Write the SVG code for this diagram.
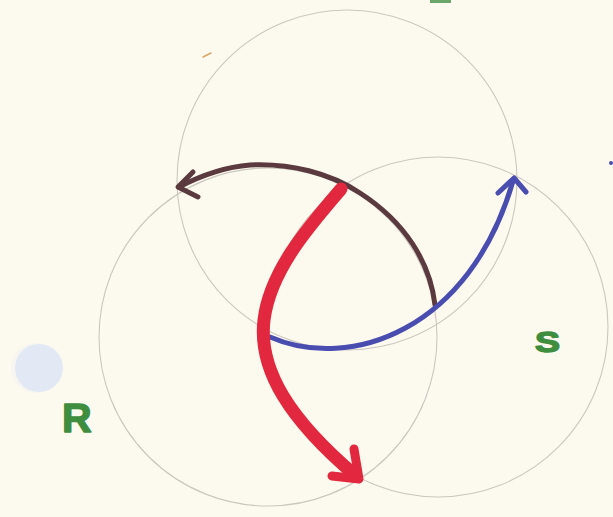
<svg xmlns="http://www.w3.org/2000/svg" width="613" height="517" viewBox="0 0 613 517">
  <defs>
    <style>
      .ring { fill: none; stroke: #cbc7bf; stroke-width: 1.1; }
      .pen { fill: none; stroke-linecap: round; stroke-linejoin: round; }
      .brown { stroke: #5a3a3e; stroke-width: 5; }
      .blue { stroke: #4a4db0; stroke-width: 5; }
      .red { stroke: #e2283f; }
      .lbl { font-family: "Liberation Sans", Arial, sans-serif; font-weight: bold; fill: #3f8e40; stroke: #3f8e40; stroke-width: 1.5; stroke-linejoin: round; }
    </style>
  </defs>
  <rect width="613" height="517" fill="#fcfaef"/>
  <!-- punch hole -->
  <g id="punch-hole">
    <circle cx="36" cy="368" r="25" fill="#f6f5f0"/>
    <circle cx="39" cy="368" r="24" fill="#e2e9f5"/>
  </g>
  <!-- small stray marks -->
  <path d="M203,57 L211,53" stroke="#d9a46a" stroke-width="1.5" stroke-linecap="round"/>
  <rect x="430" y="0" width="21" height="3" fill="#6aa66a"/>
  <circle cx="611" cy="163" r="2" fill="#4a4db0"/>

  <g id="circle-top">
    <circle class="ring" cx="347" cy="180" r="170"/>
  </g>
  <g id="circle-R">
    <circle class="ring" cx="268" cy="337" r="169"/>
  </g>
  <g id="circle-S">
    <circle class="ring" cx="438" cy="327" r="170"/>
  </g>

  <g id="connectors">
    <g id="arrow-brown">
      <path class="pen brown" d="M435,305 C430,262 405,222 360,193 C330,173 290,163 250,165 C225,167 200,176 179,187"/>
      <path class="pen brown" d="M193,172 L178,187 L198,197"/>
    </g>
    <g id="arrow-blue">
      <path class="pen blue" d="M270,337 C350,372 470,330 513,181"/>
      <path class="pen blue" d="M498,193 L514,178 L526,192"/>
    </g>
    <g id="arrow-red">
      <path class="pen red" stroke-width="13" d="M341,189 C310,225 270,270 264,320 C258,370 290,420 356,476"/>
      <path class="pen red" stroke-width="9" d="M354,449 L359,479 L332,476"/>
    </g>
  </g>

  <g id="label-R">
    <text class="lbl" x="62" y="432" font-size="41">R</text>
  </g>
  <g id="label-S">
    <text class="lbl" x="0" y="0" font-size="30" transform="translate(535,352) scale(1.25,1)">S</text>
  </g>
</svg>
